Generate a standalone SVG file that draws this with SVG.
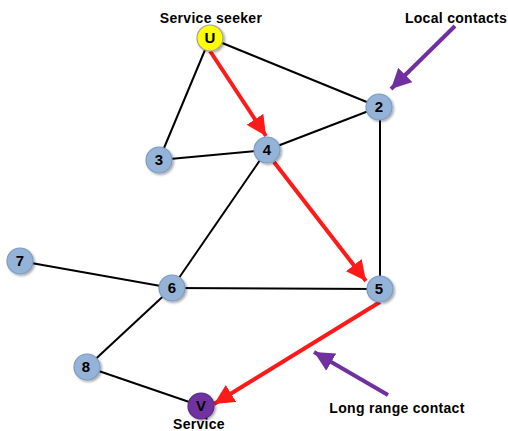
<svg xmlns="http://www.w3.org/2000/svg" width="508" height="431" viewBox="0 0 508 431">
  <defs>
    <style>
      .edge { stroke: #000; stroke-width: 2; fill: none; }
      .route { stroke: #ff1a1a; stroke-width: 4; fill: none; marker-end: url(#redHead); }
      .pointer { stroke: #7030a0; stroke-width: 4; fill: none; marker-end: url(#purpleHead); }
      .node { fill: #95b3d7; stroke: #7a9cc6; stroke-width: 1.2; filter: url(#shadow); }
      .seeker { fill: #ffff00; stroke: #a0a0a0; stroke-width: 1.2; filter: url(#shadow); }
      .target { fill: #7030a0; stroke: #5b2a86; stroke-width: 1.2; filter: url(#shadow); }
      .num { font-family: "Liberation Sans", Arial, sans-serif; font-weight: bold; font-size: 15px; fill: #000; text-anchor: middle; }
      .label { font-family: "Liberation Sans", Arial, sans-serif; font-weight: bold; font-size: 14px; letter-spacing: 0.3px; fill: #000; text-anchor: middle; }
    </style>
    <filter id="shadow" x="-30%" y="-30%" width="170%" height="170%">
      <feDropShadow dx="1.5" dy="1.5" stdDeviation="1.2" flood-color="#000" flood-opacity="0.35"/>
    </filter>
    <marker id="redHead" markerUnits="userSpaceOnUse" markerWidth="22" markerHeight="20" refX="20" refY="10" orient="auto">
      <path d="M0,0 L20,10 L0,20 Z" fill="#ff1a1a"/>
    </marker>
    <marker id="purpleHead" markerUnits="userSpaceOnUse" markerWidth="22" markerHeight="20" refX="20" refY="10" orient="auto">
      <path d="M0,0 L20,10 L0,20 Z" fill="#7030a0"/>
    </marker>
  </defs>

  <rect width="508" height="431" fill="#fff"/>

  <!-- plain links -->
  <g id="connectors">
    <line class="edge" x1="210" y1="38" x2="379" y2="107"/>
    <line class="edge" x1="210" y1="38" x2="159" y2="160"/>
    <line class="edge" x1="159" y1="160" x2="267" y2="150"/>
    <line class="edge" x1="267" y1="150" x2="379" y2="107"/>
    <line class="edge" x1="380" y1="107" x2="380" y2="289"/>
    <line class="edge" x1="267" y1="150" x2="172" y2="288"/>
    <line class="edge" x1="20" y1="261" x2="172" y2="288"/>
    <line class="edge" x1="172" y1="288" x2="380" y2="289"/>
    <line class="edge" x1="172" y1="288" x2="87" y2="367"/>
    <line class="edge" x1="87" y1="367" x2="201" y2="406"/>
    <!-- search path -->
    <line class="route" x1="210" y1="51" x2="266" y2="136"/>
    <line class="route" x1="274" y1="162" x2="366" y2="281"/>
    <line class="route" x1="380" y1="302" x2="214" y2="404"/>
    <!-- callout arrows -->
    <line class="pointer" x1="455" y1="26" x2="391" y2="89"/>
    <line class="pointer" x1="388" y1="395" x2="314" y2="352"/>
  </g>

  <g id="node-u"><circle class="seeker" cx="210" cy="38" r="13"/><text class="num" x="210" y="43">U</text></g>
  <g id="node-2"><circle class="node" cx="379" cy="107" r="13"/><text class="num" x="379" y="112">2</text></g>
  <g id="node-3"><circle class="node" cx="159" cy="160" r="13"/><text class="num" x="159" y="165">3</text></g>
  <g id="node-4"><circle class="node" cx="267" cy="150" r="13"/><text class="num" x="267" y="155">4</text></g>
  <g id="node-5"><circle class="node" cx="380" cy="289" r="13"/><text class="num" x="379" y="294">5</text></g>
  <g id="node-6"><circle class="node" cx="172" cy="288" r="13"/><text class="num" x="172" y="293">6</text></g>
  <g id="node-7"><circle class="node" cx="20" cy="261" r="13"/><text class="num" x="20" y="266">7</text></g>
  <g id="node-8"><circle class="node" cx="87" cy="367" r="13"/><text class="num" x="86" y="372">8</text></g>
  <g id="node-v"><circle class="target" cx="201" cy="406" r="13"/><text class="num" x="201" y="411">V</text></g>

  <g id="labels">
    <text class="label" x="211" y="23">Service seeker</text>
    <text class="label" x="456" y="23">Local contacts</text>
    <text class="label" x="397" y="413">Long range contact</text>
    <text class="label" x="199" y="429">Service</text>
  </g>
</svg>
